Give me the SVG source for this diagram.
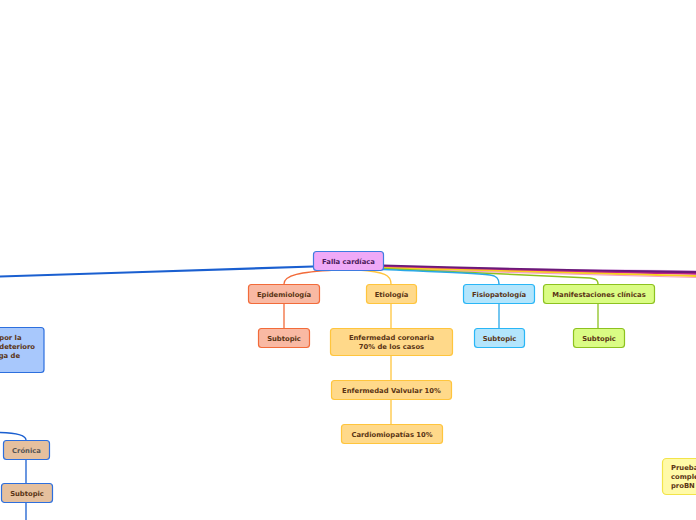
<svg xmlns="http://www.w3.org/2000/svg" width="696" height="520" viewBox="0 0 696 520">
<style>
.t{font-family:"DejaVu Sans",Verdana,sans-serif;font-weight:bold;font-size:6.8px;fill:#5a3414;text-anchor:middle}
.n rect{stroke-width:1.2}
.c{fill:none;stroke-linecap:round}
</style>
<rect width="696" height="520" fill="#ffffff"/>
<g id="connectors">
  <path class="c" d="M383,266 C450,268 560,270 696,271" stroke="#e0b0e8" stroke-width="1.5"/>
  <path class="c" d="M383,266 C450,268 560,271 696,272.5" stroke="#6a1a78" stroke-width="3"/>
  <path class="c" d="M383,267 C450,269 560,272 696,274" stroke="#c0208a" stroke-width="1.5"/>
  <path class="c" d="M383,268 C450,270 560,273 696,276" stroke="#f8d020" stroke-width="2"/>
  <path class="c" d="M383,269 C450,271 560,274 696,277.5" stroke="#f8a0c0" stroke-width="1.2"/>
  <path class="c" d="M383,268.5 C450,272 560,276 590,278 C598,279 598,282 598,284" stroke="#8dc21f" stroke-width="1.5"/>
  <path class="c" d="M383,269.5 C440,272 470,273 490,275 C498,276 499,280 499,284" stroke="#29a8e8" stroke-width="1.5"/>
  <path class="c" d="M313,266.5 C220,270 100,273 0,276.5" stroke="#1a5fd0" stroke-width="2.2"/>
  <path class="c" d="M0,432.5 C16,433 26,435 26,440" stroke="#1a5fd0" stroke-width="1.3"/>
  <line x1="26" y1="460" x2="26" y2="483" stroke="#1a5fd0" stroke-width="1.3"/>
  <line x1="26" y1="503" x2="26" y2="520" stroke="#1a5fd0" stroke-width="1.3"/>
  <path class="c" d="M335,270 C300,272 284,275 284,284" stroke="#f26b3a" stroke-width="1.3"/>
  <path class="c" d="M358,270 C385,272 391,275 391,284" stroke="#ffc53d" stroke-width="1.3"/>
  <line x1="284" y1="303" x2="284" y2="328" stroke="#f26b3a" stroke-width="1.3"/>
  <line x1="391" y1="303" x2="391" y2="328" stroke="#ffc53d" stroke-width="1.3"/>
  <line x1="391" y1="355" x2="391" y2="380" stroke="#ffc53d" stroke-width="1.3"/>
  <line x1="391" y1="399" x2="391" y2="424" stroke="#ffc53d" stroke-width="1.3"/>
  <line x1="499" y1="303" x2="499" y2="328" stroke="#29a8e8" stroke-width="1.3"/>
  <line x1="598" y1="303" x2="598" y2="328" stroke="#8dc21f" stroke-width="1.3"/>
</g>
<g id="root" class="n"><rect x="313.5" y="251.5" width="70" height="19" rx="3" fill="#efa9f7" stroke="#3f7be0"/><text class="t" x="348.5" y="263.5" style="fill:#4a1a5a">Falla cardíaca</text></g>
<g id="epidemiologia" class="n"><rect x="248.5" y="284.5" width="71" height="19" rx="3" fill="#f9b9a3" stroke="#f26b3a"/><text class="t" x="284" y="296.5">Epidemiología</text></g>
<g id="etiologia" class="n"><rect x="366.5" y="284.5" width="50" height="19" rx="3" fill="#ffd98a" stroke="#ffc53d"/><text class="t" x="391.5" y="296.5">Etiología</text></g>
<g id="fisiopatologia" class="n"><rect x="463.5" y="284.5" width="71" height="19" rx="3" fill="#b3e5fc" stroke="#29b6f6"/><text class="t" x="499" y="296.5">Fisiopatología</text></g>
<g id="manifestaciones" class="n"><rect x="543.5" y="284.5" width="111" height="19" rx="3" fill="#dafc84" stroke="#8dc21f"/><text class="t" x="599" y="296.5">Manifestaciones clínicas</text></g>
<g id="sub-epi" class="n"><rect x="258.5" y="328.5" width="51" height="19" rx="3" fill="#f9b9a3" stroke="#f26b3a"/><text class="t" x="284" y="340.5">Subtopic</text></g>
<g id="coronaria" class="n"><rect x="330.5" y="328.5" width="122" height="27" rx="3" fill="#ffd98a" stroke="#ffc53d"/><text class="t" x="391.5" y="340">Enfermedad coronaria</text><text class="t" x="391.5" y="349">70% de los casos</text></g>
<g id="valvular" class="n"><rect x="331.5" y="380.5" width="120" height="19" rx="3" fill="#ffd98a" stroke="#ffc53d"/><text class="t" x="391.5" y="392.5">Enfermedad Valvular 10%</text></g>
<g id="cardiomiopatias" class="n"><rect x="341.5" y="424.5" width="101" height="19" rx="3" fill="#ffd98a" stroke="#ffc53d"/><text class="t" x="392" y="436.5">Cardiomiopatías 10%</text></g>
<g id="sub-fisio" class="n"><rect x="474.5" y="328.5" width="50" height="19" rx="3" fill="#b3e5fc" stroke="#29b6f6"/><text class="t" x="499.5" y="340.5">Subtopic</text></g>
<g id="sub-manif" class="n"><rect x="573.5" y="328.5" width="51" height="19" rx="3" fill="#dafc84" stroke="#8dc21f"/><text class="t" x="599" y="340.5">Subtopic</text></g>
<g id="left-node" class="n"><rect x="-20" y="327.5" width="64" height="45" rx="3" fill="#a8c8fc" stroke="#2d6fde"/><text class="t" x="21.5" y="339.5" style="text-anchor:end">por la</text><text class="t" x="35" y="348.5" style="text-anchor:end">deterioro</text><text class="t" x="20" y="357.5" style="text-anchor:end">ga de</text></g>
<g id="cronica" class="n"><rect x="3.5" y="440.5" width="46" height="19" rx="3" fill="#e5c09e" stroke="#2d6fde"/><text class="t" x="26.5" y="452.5" style="fill:#555">Crónica</text></g>
<g id="sub-cronica" class="n"><rect x="1.5" y="483.5" width="51" height="19" rx="3" fill="#e5c09e" stroke="#2d6fde"/><text class="t" x="27" y="495.5">Subtopic</text></g>
<g id="pruebas" class="n"><rect x="662.5" y="458.5" width="60" height="36" rx="4" fill="#fffaa8" stroke="#f2e44a"/><text class="t" x="671" y="470" style="text-anchor:start">Prueba</text><text class="t" x="671" y="479" style="text-anchor:start">comple</text><text class="t" x="671" y="488" style="text-anchor:start">proBN</text></g>
</svg>
